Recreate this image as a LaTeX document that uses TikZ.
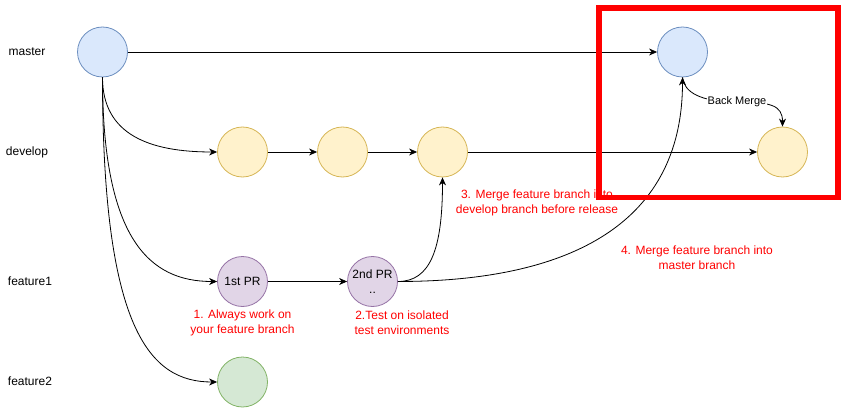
\documentclass[tikz,border=0pt]{standalone}
\usepackage{fontspec}
\setmainfont{Liberation Sans}
\usetikzlibrary{arrows.meta}
\definecolor{bluef}{HTML}{DAE8FC}\definecolor{blued}{HTML}{6C8EBF}
\definecolor{yelf}{HTML}{FFF2CC}\definecolor{yeld}{HTML}{D6B656}
\definecolor{purf}{HTML}{E1D5E7}\definecolor{purd}{HTML}{9673A6}
\definecolor{grnf}{HTML}{D5E8D4}\definecolor{grnd}{HTML}{82B366}
\definecolor{myred}{HTML}{FF0000}
\begin{document}
\begin{tikzpicture}[x=1pt,y=-1pt,
  commit/.style={circle,minimum size=50pt,inner sep=0pt,line width=0.8pt,align=center,font=\fontsize{12}{14.5}\selectfont},
  mastc/.style={commit,draw=blued,fill=bluef},
  devc/.style={commit,draw=yeld,fill=yelf},
  featc/.style={commit,draw=purd,fill=purf},
  feat2c/.style={commit,draw=grnd,fill=grnf},
  lane/.style={font=\fontsize{12}{14.5}\selectfont},
  note/.style={text=myred,align=center,font=\fontsize{12}{15}\selectfont,inner sep=0pt},
  conn/.style={line width=0.8pt,-{Stealth[length=8pt,width=7pt,inset=2.5pt]}},
  plain/.style={line width=0.8pt}]
\useasboundingbox (0,0) rectangle (845,414);

\node[lane] (lm) at (27,52) {master};
\node[lane] (ld) at (27,152) {develop};
\node[lane] (lf1) at (30,281) {feature1};
\node[lane] (lf2) at (30,381) {feature2};

\node[mastc] (m0) at (102.5,52) {};
\node[mastc] (m1) at (682.5,52) {};
\node[devc] (d1) at (242.5,152) {};
\node[devc] (d2) at (342.5,152) {};
\node[devc] (d3) at (442.5,152) {};
\node[devc] (d4) at (782.5,152) {};
\node[featc] (f1) at (242.5,281.5) {1st PR};
\node[featc] (f2) at (372.5,281.5) {2nd PR\\..};
\node[feat2c] (g1) at (242.5,382) {};

\node[note] (n1) at (242.5,322.5) {1. Always work on\\your feature branch};
\node[note] (n2) at (402,322.5) {2.Test on isolated\\test environments};
\node[note] (n3) at (537,203) {3. Merge feature branch into\\develop branch before release};
\node[note] (n4) at (697,257.5) {4. Merge feature branch into\\master branch};

\draw[conn] (m0) -- (m1);
\draw[conn] (m0.south) .. controls (102.5,135) and (150,152) .. (d1.west);
\draw[conn] (m0.south) .. controls (102.5,240) and (150,281.5) .. (f1.west);
\draw[conn] (m0.south) .. controls (102.5,330) and (150,382) .. (g1.west);
\draw[conn] (d1) -- (d2);
\draw[conn] (d2) -- (d3);
\draw[conn] (d3) -- (d4);
\draw[conn] (f1) -- (f2);
\draw[conn] (f2.east) .. controls (430,281.5) and (442.5,250) .. (d3.south);
\draw[conn] (f2.east) .. controls (560,281.5) and (682.5,230) .. (m1.south);
\coordinate (bm) at (737,102);
\draw[plain] (m1.south) .. controls (684,92) and (700,102) .. (bm);
\draw[conn] (bm) .. controls (770,102) and (782.5,105) .. (d4.north);
\node[fill=white,inner sep=1pt,font=\fontsize{11}{13}\selectfont] (bml) at (bm) {Back Merge};

\draw[myred,line width=5.8pt] (599,8) rectangle (838,197.5);
\end{tikzpicture}
\end{document}
